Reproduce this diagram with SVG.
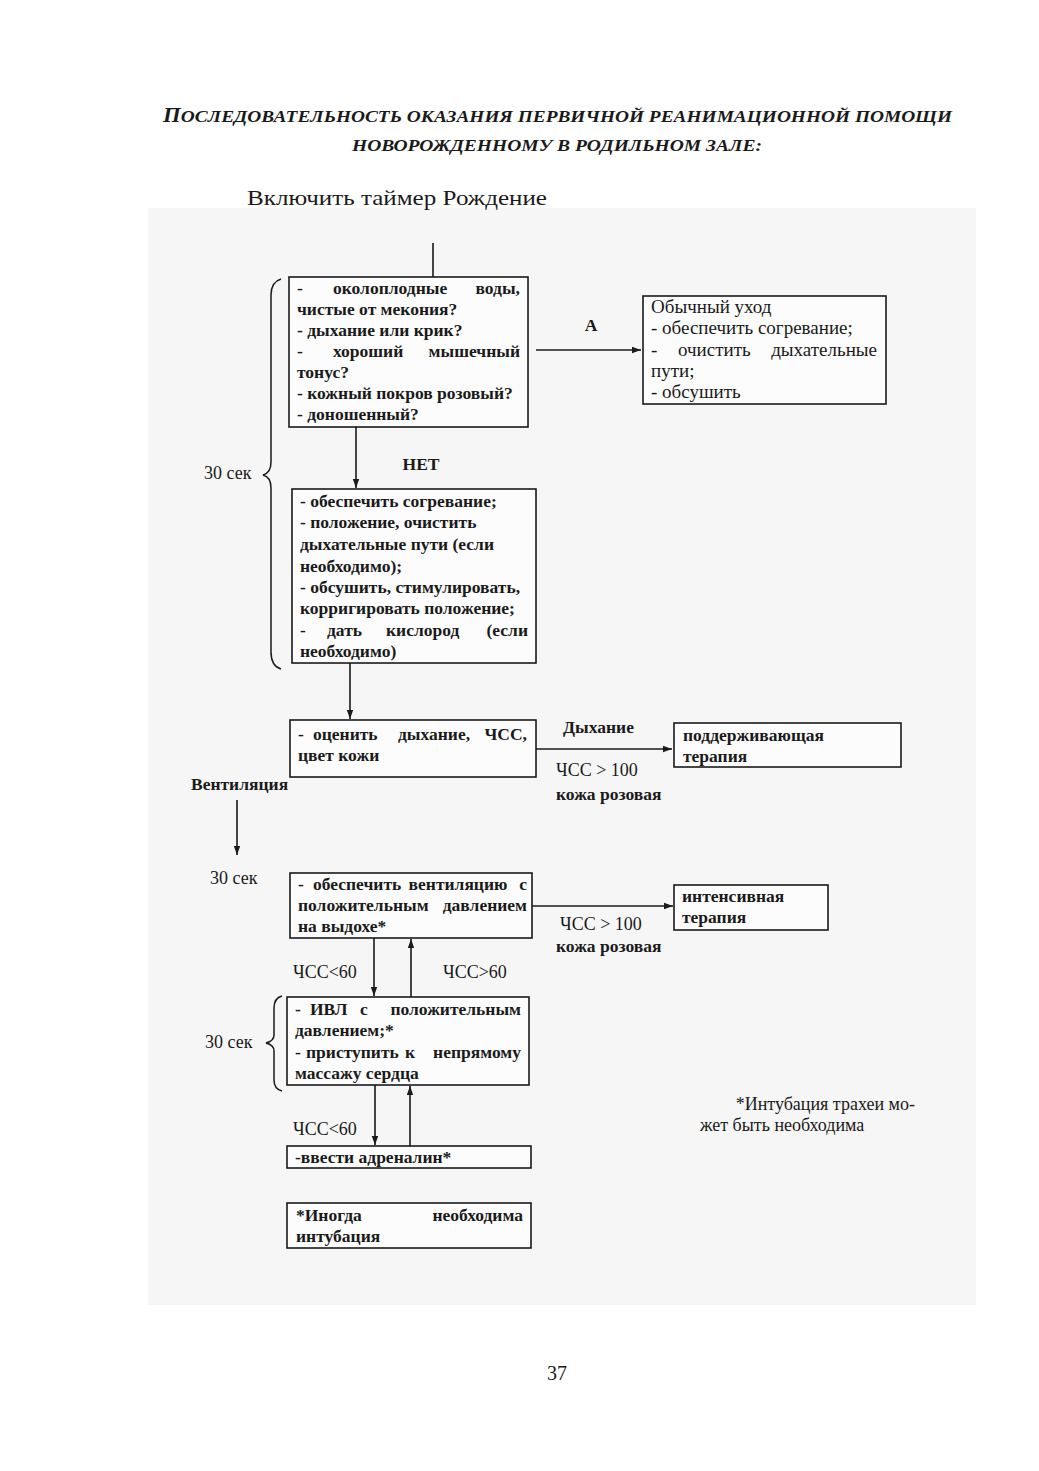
<svg xmlns="http://www.w3.org/2000/svg" width="1039" height="1471" viewBox="0 0 1039 1471">
<defs>
<style>
text{font-family:"Liberation Serif","Times New Roman",serif;fill:#1a1a1a}
.t{font-size:17.5px;font-weight:bold}
.r{font-size:19px}
.lab{font-size:18px}
.ttl{font-size:17px;font-weight:bold;font-style:italic}
.box{fill:#fcfcfc;stroke:#1a1a1a;stroke-width:1.6}
.ln{fill:none;stroke:#1a1a1a;stroke-width:1.6}
.br{fill:none;stroke:#1a1a1a;stroke-width:1.5}
.m{text-anchor:middle}
.e{text-anchor:end}
</style>
<marker id="ah" markerWidth="10" markerHeight="8" refX="9" refY="4" orient="auto" markerUnits="userSpaceOnUse">
<path d="M0,0.8 L9,4 L0,7.2 z" fill="#1a1a1a"/>
</marker>
</defs>
<rect width="1039" height="1471" fill="#ffffff"/>
<rect x="148" y="208" width="828" height="1097" fill="#f6f6f6"/>

<g id="title">
<text class="ttl" x="163" y="122" textLength="789" lengthAdjust="spacingAndGlyphs"><tspan font-size="20">П</tspan>ОСЛЕДОВАТЕЛЬНОСТЬ ОКАЗАНИЯ ПЕРВИЧНОЙ  РЕАНИМАЦИОННОЙ ПОМОЩИ</text>
<text class="ttl" x="352" y="151" textLength="410" lengthAdjust="spacingAndGlyphs">НОВОРОЖДЕННОМУ В РОДИЛЬНОМ ЗАЛЕ:</text>
</g>
<g id="start">
<text x="247" y="205" font-size="22" textLength="300" lengthAdjust="spacingAndGlyphs">Включить таймер  Рождение</text>
</g>

<g id="connectors">
<line class="ln" x1="433" y1="243" x2="433" y2="277"/>
<line class="ln" x1="356" y1="427" x2="356" y2="488" marker-end="url(#ah)"/>
<line class="ln" x1="536" y1="350" x2="641" y2="350" marker-end="url(#ah)"/>
<line class="ln" x1="350" y1="663" x2="350" y2="719" marker-end="url(#ah)"/>
<line class="ln" x1="536" y1="749" x2="672" y2="749" marker-end="url(#ah)"/>
<line class="ln" x1="237" y1="800" x2="237" y2="855" marker-end="url(#ah)"/>
<line class="ln" x1="532" y1="906" x2="673" y2="906" marker-end="url(#ah)"/>
<line class="ln" x1="374" y1="938" x2="374" y2="996" marker-end="url(#ah)"/>
<line class="ln" x1="411" y1="997" x2="411" y2="939" marker-end="url(#ah)"/>
<line class="ln" x1="375" y1="1085" x2="375" y2="1145" marker-end="url(#ah)"/>
<line class="ln" x1="410" y1="1146" x2="410" y2="1086" marker-end="url(#ah)"/>
<path class="br" d="M281 279 Q271 282 271 295 L271 462 Q271 473 263 475 Q271 477 271 488 L271 652 Q271 666 281 669"/>
<path class="br" d="M282 996 Q274 998 274 1008 L274 1035 Q274 1041 266 1043 Q274 1045 274 1051 L274 1080 Q274 1089 282 1091"/>
</g>

<g id="labels">
<text class="t" x="591" y="331" text-anchor="middle" font-size="16">А</text>
<text class="t" x="421" y="470" text-anchor="middle" font-size="16">НЕТ</text>
<text class="lab" x="204" y="479">30 сек</text>
<text class="t" x="563" y="733" font-size="16">Дыхание</text>
<text class="lab" x="556" y="776">ЧСС &gt; 100</text>
<text class="t" x="556" y="800" font-size="15">кожа розовая</text>
<text class="t" x="191" y="790" font-size="16">Вентиляция</text>
<text class="lab" x="210" y="884">30 сек</text>
<text class="lab" x="560" y="930">ЧСС &gt; 100</text>
<text class="t" x="556" y="952" font-size="15">кожа розовая</text>
<text class="lab" x="293" y="978">ЧСС&lt;60</text>
<text class="lab" x="443" y="978">ЧСС&gt;60</text>
<text class="lab" x="205" y="1048">30 сек</text>
<text class="lab" x="293" y="1135">ЧСС&lt;60</text>
<text class="lab" x="915" y="1110" text-anchor="end" font-size="17">*Интубация трахеи мо-</text>
<text class="lab" x="700" y="1131" font-size="17">жет быть необходима</text>
</g>

<g id="node1">
<rect class="box" x="289" y="277" width="239" height="150"/>
<text class="t" x="297" y="294">-</text><text class="t" x="333" y="294">околоплодные</text><text class="t e" x="520" y="294">воды,</text>
<text class="t" x="297" y="315">чистые от мекония?</text>
<text class="t" x="297" y="336">- дыхание или крик?</text>
<text class="t" x="297" y="357">-</text><text class="t" x="333" y="357">хороший</text><text class="t e" x="520" y="357">мышечный</text>
<text class="t" x="297" y="378">тонус?</text>
<text class="t" x="297" y="399">- кожный покров розовый?</text>
<text class="t" x="297" y="420">- доношенный?</text>
</g>

<g id="node-usual">
<rect class="box" x="643" y="296" width="243" height="108"/>
<text class="r" x="651" y="313">Обычный уход</text>
<text class="r" x="651" y="334">- обеспечить согревание;</text>
<text class="r" x="651" y="356">-</text><text class="r" x="678" y="356">очистить</text><text class="r e" x="877" y="356">дыхательные</text>
<text class="r" x="651" y="377">пути;</text>
<text class="r" x="651" y="398">- обсушить</text>
</g>

<g id="node2">
<rect class="box" x="292" y="489" width="244" height="174"/>
<text class="t" x="300" y="507">- обеспечить согревание;</text>
<text class="t" x="300" y="528">- положение, очистить</text>
<text class="t" x="300" y="550">дыхательные пути (если</text>
<text class="t" x="300" y="572">необходимо);</text>
<text class="t" x="300" y="593">- обсушить, стимулировать,</text>
<text class="t" x="300" y="614">корригировать положение;</text>
<text class="t" x="300" y="636">-</text><text class="t" x="327" y="636">дать</text><text class="t" x="386" y="636">кислород</text><text class="t e" x="528" y="636">(если</text>
<text class="t" x="300" y="657">необходимо)</text>
</g>

<g id="node3">
<rect class="box" x="290" y="720" width="246" height="57"/>
<text class="t" x="298" y="740">-</text><text class="t" x="313" y="740">оценить</text><text class="t" x="398" y="740">дыхание,</text><text class="t e" x="527" y="740">ЧСС,</text>
<text class="t" x="298" y="761">цвет кожи</text>
</g>

<g id="node-support">
<rect class="box" x="674" y="723" width="227" height="44"/>
<text class="t" x="683" y="741">поддерживающая</text>
<text class="t" x="683" y="762">терапия</text>
</g>

<g id="node4">
<rect class="box" x="290" y="873" width="242" height="65"/>
<text class="t" x="298" y="890">-</text><text class="t" x="313" y="890">обеспечить</text><text class="t m" x="458" y="890">вентиляцию</text><text class="t e" x="527" y="890">с</text>
<text class="t" x="298" y="911">положительным</text><text class="t e" x="527" y="911">давлением</text>
<text class="t" x="298" y="932">на выдохе*</text>
</g>

<g id="node-intensive">
<rect class="box" x="674" y="885" width="154" height="45"/>
<text class="t" x="682" y="902">интенсивная</text>
<text class="t" x="682" y="923">терапия</text>
</g>

<g id="node5">
<rect class="box" x="287" y="997" width="242" height="88"/>
<text class="t" x="295" y="1015">-</text><text class="t" x="310" y="1015">ИВЛ</text><text class="t m" x="364" y="1015">с</text><text class="t e" x="521" y="1015">положительным</text>
<text class="t" x="295" y="1036">давлением;*</text>
<text class="t" x="295" y="1058">-</text><text class="t" x="306" y="1058">приступить</text><text class="t m" x="410" y="1058">к</text><text class="t e" x="521" y="1058">непрямому</text>
<text class="t" x="295" y="1079">массажу сердца</text>
</g>

<g id="node6">
<rect class="box" x="287" y="1146" width="244" height="22"/>
<text class="t" x="295" y="1163">-ввести адреналин*</text>
</g>

<g id="node7">
<rect class="box" x="287" y="1203" width="244" height="45"/>
<text class="t" x="296" y="1221">*Иногда</text><text class="t e" x="523" y="1221">необходима</text>
<text class="t" x="296" y="1242">интубация</text>
</g>

<g id="page">
<text x="557" y="1380" text-anchor="middle" font-size="20">37</text>
</g>
</svg>
